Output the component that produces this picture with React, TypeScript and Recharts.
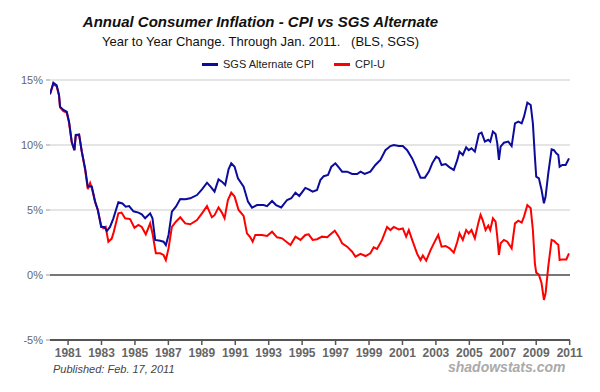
import React from 'react';
import {
  LineChart,
  Line,
  XAxis,
  YAxis,
  CartesianGrid,
  ReferenceLine,
} from 'recharts';

// SGS Alternate CPI, year/year %
const sgsYears = [
  1979.92, 1980.12, 1980.32, 1980.46, 1980.52, 1980.72, 1980.92, 1981.06, 1981.22, 1981.38,
  1981.46, 1981.66, 1981.82, 1982.02, 1982.18, 1982.42, 1982.62, 1982.78, 1982.98, 1983.17,
  1983.32, 1983.51, 1983.71, 1984.01, 1984.25, 1984.45, 1984.65, 1984.91, 1985.21, 1985.41,
  1985.61, 1985.91, 1986.05, 1986.21, 1986.51, 1986.71, 1986.85, 1987.01, 1987.21, 1987.45,
  1987.71, 1988.01, 1988.31, 1988.71, 1989.01, 1989.31, 1989.56, 1989.76, 1990.0, 1990.2,
  1990.4, 1990.6, 1990.76, 1990.96, 1991.16, 1991.5, 1991.76, 1992.0, 1992.3, 1992.7,
  1992.9, 1993.2, 1993.44, 1993.75, 1994.1, 1994.35, 1994.6, 1994.83, 1995.19, 1995.39,
  1995.63, 1995.89, 1996.09, 1996.29, 1996.55, 1996.75, 1996.99, 1997.19, 1997.39, 1997.69,
  1997.99, 1998.29, 1998.49, 1998.74, 1999.08, 1999.38, 1999.68, 1999.98, 2000.28, 2000.48,
  2000.78, 2001.02, 2001.28, 2001.58, 2001.88, 2002.08, 2002.34, 2002.58, 2002.78, 2003.02,
  2003.18, 2003.34, 2003.58, 2003.82, 2004.07, 2004.28, 2004.41, 2004.61, 2004.81, 2004.96,
  2005.13, 2005.33, 2005.57, 2005.73, 2005.93, 2006.13, 2006.25, 2006.41, 2006.57, 2006.67,
  2006.77, 2006.87, 2007.07, 2007.33, 2007.53, 2007.73, 2007.93, 2008.13, 2008.27, 2008.47,
  2008.67, 2008.8, 2008.92, 2009.0, 2009.16, 2009.32, 2009.46, 2009.56, 2009.72, 2009.92,
  2010.06, 2010.2, 2010.32, 2010.4, 2010.56, 2010.76, 2010.96,
];
const sgsValues = [
  13.9, 14.8, 14.6, 13.85, 12.95, 12.7, 12.56, 11.8, 10.25, 9.6,
  10.77, 10.8, 9.5, 8.2, 6.8, 6.8, 5.64, 5.0, 3.7, 3.7,
  3.38, 3.7, 4.36, 5.6, 5.5, 5.26, 5.3, 4.9, 4.8, 4.67,
  4.36, 4.74, 4.36, 2.7, 2.64, 2.56, 2.3, 3.08, 4.87, 5.26,
  5.85, 5.82, 5.9, 6.15, 6.59, 7.1, 6.74, 6.41, 7.36, 7.18,
  6.92, 8.13, 8.59, 8.33, 7.44, 6.8, 5.64, 5.18, 5.38, 5.38,
  5.3, 5.69, 5.38, 5.2, 5.77, 5.9, 6.33, 6.08, 6.7, 6.59,
  6.41, 6.54, 7.3, 7.6, 7.7, 8.33, 8.59, 8.28, 7.95, 7.95,
  7.77, 7.77, 7.95, 7.77, 7.95, 8.46, 8.85, 9.6, 9.92, 10.0,
  9.92, 9.92, 9.6, 8.97, 8.08, 7.49, 7.49, 7.95, 8.59, 9.1,
  8.97, 8.46, 8.54, 8.28, 8.08, 8.85, 9.49, 9.23, 9.82, 9.6,
  9.74, 9.49, 10.85, 10.95, 10.26, 10.4, 10.26, 11.03, 10.85, 10.13,
  8.85, 9.87, 10.18, 10.26, 9.92, 11.67, 11.8, 11.67, 12.18, 13.26,
  13.08, 11.67, 9.1, 7.56, 7.44, 6.54, 5.51, 6.03, 7.82, 9.67,
  9.6, 9.36, 9.23, 8.33, 8.46, 8.46, 8.97,
];

// CPI-U, year/year %
const cpiYears = [
  1979.92, 1980.12, 1980.32, 1980.46, 1980.52, 1980.72, 1980.92, 1981.06, 1981.22, 1981.38,
  1981.46, 1981.66, 1981.82, 1982.02, 1982.18, 1982.32, 1982.42, 1982.62, 1982.78, 1982.98,
  1983.11, 1983.25, 1983.41, 1983.61, 1983.71, 1984.01, 1984.2, 1984.41, 1984.71, 1984.97,
  1985.21, 1985.41, 1985.65, 1985.91, 1986.05, 1986.25, 1986.51, 1986.71, 1986.85, 1987.01,
  1987.21, 1987.45, 1987.71, 1988.01, 1988.31, 1988.71, 1989.01, 1989.31, 1989.6, 1989.76,
  1990.0, 1990.2, 1990.36, 1990.56, 1990.76, 1990.96, 1991.2, 1991.5, 1991.7, 1991.9,
  1992.04, 1992.2, 1992.6, 1992.9, 1993.2, 1993.5, 1993.8, 1994.3, 1994.6, 1994.9,
  1995.19, 1995.39, 1995.63, 1995.89, 1996.19, 1996.5, 1996.75, 1996.95, 1997.19, 1997.39,
  1997.69, 1997.99, 1998.19, 1998.49, 1998.79, 1999.08, 1999.28, 1999.48, 1999.78, 2000.08,
  2000.28, 2000.48, 2000.78, 2001.02, 2001.22, 2001.38, 2001.58, 2001.88, 2002.08, 2002.22,
  2002.42, 2002.68, 2002.98, 2003.14, 2003.34, 2003.58, 2003.82, 2004.07, 2004.28, 2004.41,
  2004.61, 2004.81, 2004.96, 2005.13, 2005.33, 2005.53, 2005.67, 2005.81, 2005.97, 2006.13,
  2006.25, 2006.41, 2006.57, 2006.67, 2006.77, 2006.87, 2007.07, 2007.27, 2007.53, 2007.73,
  2007.93, 2008.13, 2008.27, 2008.47, 2008.67, 2008.8, 2008.92, 2009.0, 2009.16, 2009.32,
  2009.46, 2009.56, 2009.72, 2009.92, 2010.06, 2010.2, 2010.32, 2010.4, 2010.56, 2010.8,
  2010.96,
];
const cpiValues = [
  13.9, 14.7, 14.5, 13.8, 12.9, 12.6, 12.5, 11.7, 10.2, 9.6,
  10.7, 10.8, 9.5, 8.1, 6.6, 7.08, 6.7, 5.6, 5.0, 3.8,
  3.6, 3.7, 2.56, 2.8, 3.2, 4.74, 4.8, 4.36, 4.3, 3.64,
  3.85, 3.7, 3.13, 3.97, 3.2, 1.67, 1.67, 1.54, 1.15, 2.05,
  3.7, 4.1, 4.44, 3.97, 3.9, 4.23, 4.74, 5.3, 4.44, 4.6,
  5.2, 4.8, 4.36, 5.77, 6.33, 6.03, 5.0, 4.54, 3.2, 2.9,
  2.56, 3.08, 3.08, 3.0, 3.33, 2.9, 2.82, 2.3, 2.95, 2.7,
  3.08, 3.13, 2.7, 2.75, 2.95, 2.9, 3.2, 3.4, 2.95, 2.44,
  2.18, 1.79, 1.41, 1.62, 1.46, 1.67, 2.13, 2.0, 2.7, 3.7,
  3.46, 3.7, 3.5, 3.58, 2.95, 3.46, 2.7, 1.62, 1.15, 1.5,
  1.1, 1.92, 2.7, 3.08, 2.18, 2.23, 2.05, 1.72, 2.56, 3.2,
  2.7, 3.46, 3.2, 3.46, 2.82, 3.97, 4.62, 4.18, 3.46, 3.8,
  3.46, 4.36, 4.1, 2.95, 1.54, 2.44, 2.7, 2.56, 2.05, 3.97,
  4.18, 4.03, 4.49, 5.38, 5.13, 3.46, 0.9, 0.18, 0.03, -0.64,
  -1.92, -1.41, 0.64, 2.7, 2.63, 2.44, 2.33, 1.15, 1.2, 1.2,
  1.67,
];

const yearTicks = [1981, 1983, 1985, 1987, 1989, 1991, 1993, 1995, 1997, 1999, 2001, 2003, 2005, 2007, 2009, 2011];
const pctTicks = [-5, 0, 5, 10, 15];

const BLUE = '#0c0c9c';
const RED = '#ff0000';
const FONT = '"Liberation Sans", Arial, sans-serif';

const sgsData = sgsYears.map((year, i) => ({ year, value: sgsValues[i] }));
const cpiData = cpiYears.map((year, i) => ({ year, value: cpiValues[i] }));

const legendItems = [
  { name: 'SGS Alternate CPI', color: BLUE, left: 202 },
  { name: 'CPI-U', color: RED, left: 334 },
];

export default function App() {
  return (
    <div style={{ position: 'absolute', left: 0, top: 0, width: 600, height: 392, background: '#fff', fontFamily: FONT }}>
      <div style={{ position: 'absolute', left: 0, top: 13, width: 521, textAlign: 'center', fontSize: 15, fontWeight: 'bold', fontStyle: 'italic', color: '#111' }}>
        Annual Consumer Inflation - CPI vs SGS Alternate
      </div>
      <div style={{ position: 'absolute', left: 0, top: 34, width: 521, textAlign: 'center', fontSize: 13, color: '#111', whiteSpace: 'pre' }}>
        {'Year to Year Change. Through Jan. 2011.   (BLS, SGS)'}
      </div>
      {legendItems.map((item) => (
        <div key={item.name} style={{ position: 'absolute', left: item.left, top: 57, display: 'flex', alignItems: 'center', fontSize: 11, color: '#222', lineHeight: '14px' }}>
          <span style={{ display: 'inline-block', width: 16, height: 3, background: item.color, marginRight: 5 }} />
          {item.name}
        </div>
      ))}
      <LineChart width={600} height={392} data={sgsData} margin={{ top: 80, right: 30, bottom: 0, left: 0 }}>
        <CartesianGrid vertical={false} stroke="#dddddd" strokeWidth={1.5} />
        <XAxis
          dataKey="year"
          type="number"
          domain={[1979.92, 2011.02]}
          ticks={yearTicks}
          allowDataOverflow
          height={52}
          axisLine={{ stroke: '#555', strokeWidth: 2 }}
          tickLine={{ stroke: '#555', strokeWidth: 1.5 }}
          tickSize={5}
          tickMargin={3}
          tick={{ fill: '#666', fontSize: 12, fontWeight: 'bold', fontFamily: FONT }}
        />
        <YAxis
          type="number"
          domain={[-5, 15]}
          ticks={pctTicks}
          width={50}
          axisLine={false}
          tickLine={{ stroke: '#999' }}
          tickSize={4}
          tickMargin={3}
          tickFormatter={(v) => `${v}%`}
          tick={{ fill: '#666', fontSize: 11, fontFamily: FONT }}
        />
        <ReferenceLine y={0} stroke="#777" strokeWidth={2} />
        <Line data={cpiData} dataKey="value" name="CPI-U" stroke={RED} strokeWidth={2} dot={false} type="linear" isAnimationActive={false} />
        <Line data={sgsData} dataKey="value" name="SGS Alternate CPI" stroke={BLUE} strokeWidth={2} dot={false} type="linear" isAnimationActive={false} />
      </LineChart>
      <div style={{ position: 'absolute', left: 53, top: 363, fontSize: 11, fontStyle: 'italic', color: '#444' }}>
        Published: Feb. 17, 2011
      </div>
      <div style={{ position: 'absolute', left: 448, top: 359, fontSize: 14, fontStyle: 'italic', fontWeight: 'bold', color: '#aaa' }}>
        shadowstats.com
      </div>
    </div>
  );
}
